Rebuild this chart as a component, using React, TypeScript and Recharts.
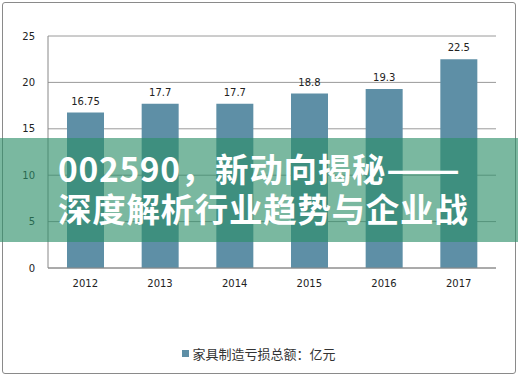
import React from "react";
import { BarChart, Bar, XAxis, YAxis, CartesianGrid, LabelList, Legend } from "recharts";

const years = ["2012", "2013", "2014", "2015", "2016", "2017"];
const losses = [16.75, 17.7, 17.7, 18.8, 19.3, 22.5];
const yTicks = [0, 5, 10, 15, 20, 25];
const seriesName = "家具制造亏损总额：亿元";
const titleLine1a = "002590，新动向揭秘";
const titleLine1b = "——";
const titleLine2 = "深度解析行业趋势与企业战";

const data = years.map((y, i) => ({ year: y, value: losses[i] }));

const tickStyle = { fontFamily: "DejaVu Sans", fontSize: 10, fill: "#222" };

const LegendContent = () => (
  <div style={{ display: "flex", justifyContent: "center", alignItems: "center", fontFamily: "'Noto Sans CJK SC'", fontSize: 13, color: "#333" }}>
    <span style={{ display: "inline-block", width: 7, height: 7, background: "#5E8FA6", marginRight: 3 }} />
    <span>{seriesName}</span>
  </div>
);

export default function App() {
  return (
    <div style={{ position: "absolute", left: 0, top: 0, width: 518, height: 380, background: "#fff", overflow: "hidden" }}>
      <div style={{ position: "absolute", left: 2, top: 2, width: 512, height: 370, border: "1px solid #8a8a8a", borderRadius: 3 }} />
      <BarChart width={518} height={380} data={data} margin={{ top: 36, right: 22, bottom: 82, left: 0 }}>
        <CartesianGrid vertical={false} stroke="#9a9a9a" />
        <XAxis dataKey="year" tickLine={false} tickMargin={6} axisLine={{ stroke: "#888" }} tick={tickStyle} />
        <YAxis width={48} domain={[0, 25]} ticks={yTicks} tickLine={false} tickMargin={7} axisLine={{ stroke: "#888" }} tick={tickStyle} />
        <Legend verticalAlign="middle" align="center" layout="horizontal" wrapperStyle={{ top: 344, left: 0, width: 518 }} content={<LegendContent />} />
        <Bar dataKey="value" name={seriesName} fill="#5E8FA6" barSize={37} isAnimationActive={false}>
          <LabelList dataKey="value" position="top" offset={8} style={{ fontFamily: "DejaVu Sans", fontSize: 10, fill: "#222" }} />
        </Bar>
      </BarChart>
      <div style={{ position: "absolute", left: 0, top: 138, width: 518, height: 104, background: "rgba(45,143,105,0.63)" }} />
      <div lang="zh-CN" style={{ position: "absolute", left: 58, top: 148, fontFamily: "'Noto Sans CJK SC'", fontWeight: 700, fontSize: 33.5, letterSpacing: 0.7, lineHeight: "40px", color: "#fff", whiteSpace: "nowrap" }}>
        <div>
          {titleLine1a}
          <span style={{ display: "inline-block", transform: "scaleX(1.3)", transformOrigin: "left center" }}>{titleLine1b}</span>
        </div>
        <div>{titleLine2}</div>
      </div>
    </div>
  );
}
